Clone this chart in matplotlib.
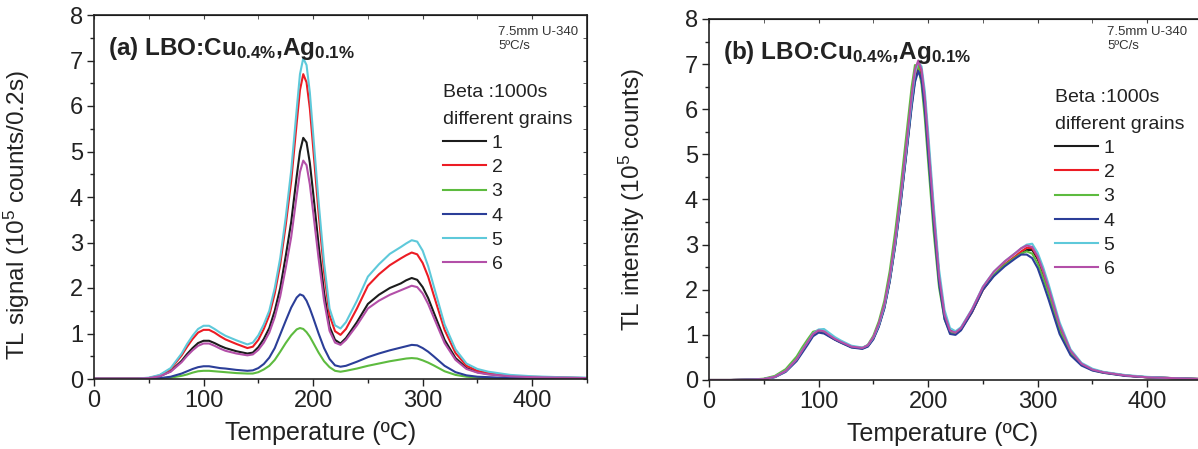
import matplotlib
matplotlib.use("Agg")
import matplotlib.pyplot as plt
from matplotlib.ticker import MultipleLocator

plt.rcParams['font.family'] = ['Liberation Sans', 'DejaVu Sans']
plt.rcParams['mathtext.fontset'] = 'custom'
plt.rcParams['mathtext.rm'] = 'Liberation Sans'
plt.rcParams['mathtext.bf'] = 'Liberation Sans:bold'
plt.rcParams['mathtext.it'] = 'Liberation Sans:italic'

# ---------------- data ----------------
temperature = [0, 20, 40, 50, 60, 70, 80, 85, 90, 95, 100, 105, 110, 115, 120, 130, 140,
               145, 150, 155, 160, 165, 170, 175, 180, 185, 188, 191, 194, 197, 200, 205, 210, 215, 220, 225,
               230, 240, 250, 260, 270, 280, 285, 290, 295, 300, 305, 310, 320, 330, 340, 350, 360,
               380, 400, 425, 450]

grain_labels = ["1", "2", "3", "4", "5", "6"]
grain_colors = ["#1c1c1c", "#ec1c24", "#5dbb3f", "#2b3e98", "#5ec9da", "#b34fa8"]

# (a) TL signal, 10^5 counts / 0.2 s
a_g1 = [0.01, 0.01, 0.01, 0.02, 0.06, 0.17, 0.40, 0.55, 0.68, 0.79, 0.84, 0.84, 0.79, 0.73, 0.68, 0.61, 0.56,
        0.58, 0.70, 0.88, 1.12, 1.50, 2.00, 2.70, 3.45, 4.45, 5.00, 5.30, 5.20, 4.75, 4.10, 2.95, 1.90, 1.15, 0.86, 0.78,
        0.90, 1.25, 1.65, 1.85, 2.00, 2.10, 2.17, 2.22, 2.18, 2.02, 1.78, 1.47, 0.86, 0.46, 0.24, 0.15, 0.11,
        0.06, 0.04, 0.03, 0.02]
a_g2 = [0.01, 0.01, 0.01, 0.02, 0.08, 0.22, 0.52, 0.71, 0.88, 1.02, 1.08, 1.08, 1.02, 0.94, 0.87, 0.77, 0.68,
        0.71, 0.86, 1.10, 1.40, 1.88, 2.52, 3.38, 4.35, 5.62, 6.35, 6.70, 6.52, 5.95, 5.10, 3.65, 2.35, 1.40, 1.05, 0.97,
        1.10, 1.55, 2.05, 2.30, 2.50, 2.65, 2.72, 2.78, 2.74, 2.55, 2.25, 1.85, 1.08, 0.57, 0.29, 0.18, 0.13,
        0.07, 0.05, 0.03, 0.02]
a_g3 = [0.00, 0.00, 0.00, 0.00, 0.01, 0.03, 0.07, 0.10, 0.14, 0.17, 0.18, 0.18, 0.17, 0.16, 0.15, 0.13, 0.12,
        0.12, 0.15, 0.21, 0.29, 0.42, 0.60, 0.79, 0.96, 1.09, 1.12, 1.10, 1.03, 0.93, 0.80, 0.58, 0.39, 0.26, 0.18, 0.16,
        0.18, 0.23, 0.29, 0.34, 0.39, 0.43, 0.45, 0.46, 0.45, 0.41, 0.36, 0.30, 0.17, 0.09, 0.05, 0.03, 0.02,
        0.01, 0.01, 0.01, 0.00]
a_g4 = [0.00, 0.00, 0.00, 0.01, 0.02, 0.05, 0.12, 0.17, 0.22, 0.26, 0.28, 0.28, 0.26, 0.24, 0.23, 0.20, 0.18,
        0.19, 0.24, 0.33, 0.47, 0.68, 0.98, 1.28, 1.57, 1.79, 1.86, 1.83, 1.72, 1.55, 1.35, 1.00, 0.68, 0.44, 0.30, 0.27,
        0.29, 0.38, 0.48, 0.56, 0.63, 0.69, 0.72, 0.75, 0.74, 0.68, 0.60, 0.50, 0.29, 0.15, 0.08, 0.05, 0.04,
        0.02, 0.02, 0.01, 0.01]
a_g5 = [0.01, 0.01, 0.01, 0.03, 0.09, 0.24, 0.56, 0.77, 0.95, 1.10, 1.17, 1.17, 1.10, 1.02, 0.95, 0.85, 0.76,
        0.80, 0.96, 1.20, 1.50, 2.00, 2.66, 3.55, 4.58, 5.92, 6.70, 7.05, 6.90, 6.30, 5.40, 3.90, 2.55, 1.55, 1.18, 1.11,
        1.25, 1.72, 2.25, 2.52, 2.75, 2.90, 2.98, 3.05, 3.02, 2.82, 2.48, 2.05, 1.20, 0.65, 0.34, 0.22, 0.16,
        0.09, 0.06, 0.04, 0.03]
a_g6 = [0.01, 0.01, 0.01, 0.02, 0.06, 0.16, 0.37, 0.51, 0.63, 0.73, 0.78, 0.78, 0.73, 0.67, 0.62, 0.56, 0.52,
        0.54, 0.64, 0.80, 1.02, 1.36, 1.82, 2.44, 3.12, 4.03, 4.55, 4.80, 4.70, 4.28, 3.68, 2.65, 1.72, 1.06, 0.80, 0.75,
        0.86, 1.18, 1.55, 1.72, 1.85, 1.95, 2.00, 2.05, 2.02, 1.88, 1.65, 1.36, 0.79, 0.42, 0.22, 0.14, 0.10,
        0.06, 0.04, 0.03, 0.02]

# (b) TL intensity, 10^5 counts
b_g1 = [0.00, 0.00, 0.01, 0.02, 0.07, 0.20, 0.45, 0.64, 0.82, 1.00, 1.07, 1.05, 0.97, 0.90, 0.84, 0.73, 0.70,
        0.75, 0.92, 1.20, 1.60, 2.20, 3.00, 3.95, 5.00, 6.10, 6.65, 6.90, 6.75, 6.15, 5.25, 3.70, 2.30, 1.45, 1.10, 1.05,
        1.15, 1.52, 2.00, 2.32, 2.55, 2.72, 2.80, 2.88, 2.88, 2.68, 2.36, 2.00, 1.18, 0.63, 0.35, 0.23, 0.17,
        0.10, 0.06, 0.04, 0.02]
b_g2 = [0.00, 0.00, 0.01, 0.02, 0.07, 0.20, 0.45, 0.64, 0.82, 1.00, 1.08, 1.06, 0.98, 0.90, 0.85, 0.74, 0.71,
        0.76, 0.93, 1.21, 1.62, 2.23, 3.04, 4.00, 5.06, 6.18, 6.75, 7.00, 6.85, 6.25, 5.33, 3.75, 2.32, 1.45, 1.08, 1.04,
        1.12, 1.50, 2.00, 2.33, 2.57, 2.75, 2.85, 2.93, 2.92, 2.72, 2.40, 2.02, 1.20, 0.64, 0.36, 0.23, 0.17,
        0.10, 0.06, 0.04, 0.02]
b_g3 = [0.00, 0.00, 0.01, 0.03, 0.09, 0.24, 0.52, 0.72, 0.90, 1.07, 1.10, 1.06, 0.97, 0.90, 0.84, 0.73, 0.71,
        0.78, 0.98, 1.30, 1.75, 2.42, 3.30, 4.30, 5.40, 6.50, 6.98, 6.95, 6.55, 5.80, 4.85, 3.30, 2.05, 1.35, 1.05, 1.04,
        1.13, 1.52, 2.02, 2.33, 2.55, 2.72, 2.80, 2.85, 2.80, 2.58, 2.26, 1.90, 1.10, 0.60, 0.34, 0.22, 0.16,
        0.10, 0.06, 0.04, 0.02]
b_g4 = [0.00, 0.00, 0.01, 0.02, 0.06, 0.18, 0.42, 0.60, 0.78, 0.97, 1.05, 1.03, 0.96, 0.89, 0.83, 0.72, 0.69,
        0.74, 0.90, 1.18, 1.58, 2.18, 2.98, 3.92, 4.98, 6.05, 6.60, 6.85, 6.65, 6.00, 5.05, 3.50, 2.15, 1.35, 1.02, 1.00,
        1.10, 1.50, 2.00, 2.30, 2.52, 2.70, 2.78, 2.78, 2.70, 2.48, 2.14, 1.78, 1.02, 0.55, 0.32, 0.21, 0.16,
        0.09, 0.06, 0.04, 0.02]
b_g5 = [0.00, 0.00, 0.01, 0.02, 0.07, 0.20, 0.46, 0.66, 0.84, 1.03, 1.12, 1.13, 1.04, 0.95, 0.88, 0.76, 0.72,
        0.77, 0.94, 1.22, 1.63, 2.24, 3.05, 4.02, 5.08, 6.20, 6.80, 7.05, 6.95, 6.40, 5.50, 3.90, 2.45, 1.55, 1.15, 1.08,
        1.17, 1.57, 2.07, 2.40, 2.63, 2.82, 2.92, 3.00, 3.02, 2.82, 2.50, 2.12, 1.28, 0.68, 0.38, 0.25, 0.18,
        0.11, 0.07, 0.04, 0.02]
b_g6 = [0.00, 0.00, 0.01, 0.02, 0.07, 0.20, 0.46, 0.65, 0.84, 1.02, 1.10, 1.08, 0.99, 0.91, 0.85, 0.74, 0.71,
        0.77, 0.95, 1.25, 1.67, 2.30, 3.12, 4.10, 5.18, 6.30, 6.88, 7.08, 6.88, 6.25, 5.30, 3.70, 2.30, 1.45, 1.09, 1.05,
        1.15, 1.56, 2.06, 2.40, 2.63, 2.82, 2.92, 2.98, 2.95, 2.74, 2.42, 2.04, 1.22, 0.65, 0.36, 0.23, 0.17,
        0.10, 0.06, 0.04, 0.02]

a_series = [a_g1, a_g2, a_g3, a_g4, a_g5, a_g6]
b_series = [b_g1, b_g2, b_g3, b_g4, b_g5, b_g6]
for s in a_series + b_series:
    assert len(s) == len(temperature)

W, H = 1198, 449
fig = plt.figure(figsize=(W / 100, H / 100), dpi=100)

def px_axes(x0, x1, ytop, ybot):
    return fig.add_axes([x0 / W, 1 - ybot / H, (x1 - x0) / W, (ybot - ytop) / H])

ax_a = px_axes(94, 587, 15, 379)
ax_b = px_axes(709, 1202, 19, 380)

panels = [
    (ax_a, a_series, r'TL signal (10$^{5}$ counts/0.2s)', '(a)', (443, 84), (498, 26), 0.46, 0.45),
    (ax_b, b_series, r'TL intensity (10$^{5}$ counts)', '(b)', (1055, 89), (1107, 26), 0.473, 0.50),
]

for ax, series, ylab, tag, leg_xy, note_xy, xl_x, yl_y in panels:
    for vals, lab, col in zip(series, grain_labels, grain_colors):
        ax.plot(temperature, vals, color=col, lw=1.5, label=lab)
    ax.set_xlim(0, 450)
    ax.set_ylim(0, 8)
    ax.xaxis.set_major_locator(MultipleLocator(100))
    ax.xaxis.set_minor_locator(MultipleLocator(50))
    ax.yaxis.set_major_locator(MultipleLocator(1))
    ax.yaxis.set_minor_locator(MultipleLocator(0.5))
    ax.tick_params(which='both', direction='out', labelsize=17, width=1, color='#222222',
                   labelcolor='#222222', pad=3)
    ax.tick_params(which='major', length=5)
    ax.tick_params(which='minor', length=3)
    ax.set_xlabel('Temperature (ºC)', fontsize=18, color='#222222')
    ax.xaxis.set_label_coords(xl_x, -0.115)
    ax.set_ylabel(ylab, fontsize=17.5, color='#222222')
    ax.yaxis.set_label_coords(-0.125, yl_y)
    for s in ax.spines.values():
        s.set_linewidth(1.2)
        s.set_color('#222222')
    # mirrored ticks on top/right
    sec_x = ax.secondary_xaxis('top')
    sec_x.xaxis.set_major_locator(MultipleLocator(100))
    sec_x.xaxis.set_minor_locator(MultipleLocator(50))
    sec_x.tick_params(which='both', direction='in', labeltop=False, length=3, color='#444444')
    sec_y = ax.secondary_yaxis('right')
    sec_y.yaxis.set_major_locator(MultipleLocator(1))
    sec_y.yaxis.set_minor_locator(MultipleLocator(0.5))
    sec_y.tick_params(which='both', direction='in', labelright=False, length=3, color='#444444')

    # panel title
    ax.text(0.028, 0.945, tag + r' LBO:Cu$_{\mathbf{0.4\%}}$,Ag$_{\mathbf{0.1\%}}$',
            transform=ax.transAxes, fontsize=17.5, fontweight='bold', ha='left', va='top',
            color='#222222')
    # note
    fig.text(note_xy[0] / W, 1 - note_xy[1] / H, '7.5mm U-340\n5ºC/s', fontsize=9.5,
             ha='left', va='top', color='#333333', linespacing=1.25)
    # legend
    leg = ax.legend(loc='upper left', bbox_to_anchor=(leg_xy[0] / W, 1 - leg_xy[1] / H),
                    bbox_transform=fig.transFigure, frameon=False, fontsize=14,
                    title='Beta :1000s\ndifferent grains', title_fontsize=14,
                    alignment='left', handlelength=2.2, handletextpad=0.3,
                    labelspacing=0.34, borderpad=0, borderaxespad=0)
    for t in leg.get_texts():
        t.set_color('#222222')
    leg.get_title().set_color('#222222')
    leg.get_title().set_linespacing(1.75)

fig.savefig('out.png', dpi=100)
